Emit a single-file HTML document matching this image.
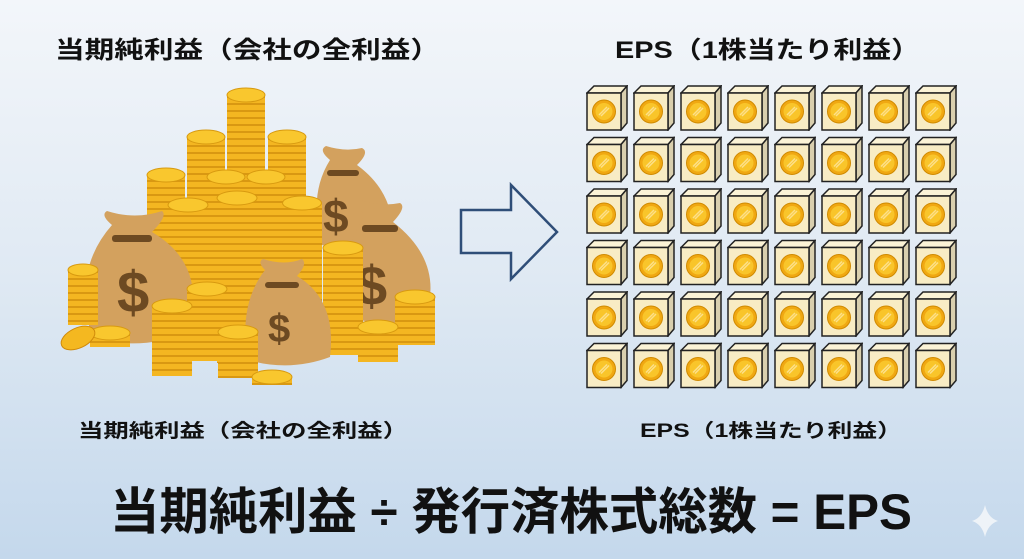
<!DOCTYPE html>
<html><head><meta charset="utf-8"><style>
html,body{margin:0;padding:0;width:1024px;height:559px;overflow:hidden}
svg{display:block}
text{font-family:"Liberation Sans","Noto Sans CJK JP",sans-serif;font-weight:bold;fill:#111}
</style></head><body>
<svg width="1024" height="559" viewBox="0 0 1024 559" xmlns="http://www.w3.org/2000/svg">
<defs>
<linearGradient id="bg" x1="0" y1="0" x2="0" y2="1">
<stop offset="0" stop-color="#f3f6fa"/><stop offset="0.5" stop-color="#dfe9f3"/><stop offset="1" stop-color="#c4d8ec"/>
</linearGradient>
<pattern id="st" patternUnits="userSpaceOnUse" width="10" height="7">
<rect width="10" height="7" fill="#f4b621"/><rect y="5" width="10" height="2" fill="#d99812"/>
</pattern>
<symbol id="cube" viewBox="0 0 42 46" width="42" height="46">
<path d="M1 8 L8 1 L41 1 L35 8 Z" fill="#fbf3d6" stroke="#222" stroke-width="1.5"/>
<path d="M35 8 L41 1 L41 38 L35 45 Z" fill="#d9cfae" stroke="#222" stroke-width="1.5"/>
<rect x="1" y="8" width="34" height="37" fill="#f8ecc4" stroke="#222" stroke-width="1.5"/>
<circle cx="18" cy="26.5" r="11.5" fill="#f0a812" stroke="#d08a00"/>
<circle cx="18" cy="26.5" r="8.5" fill="#f9c52a"/>
<path d="M13 30 L21 22 M15 31 L23 23" stroke="#fde08a" stroke-width="1.5"/>
</symbol>
<g id="cubes">
<use href="#cube" x="586" y="85"/><use href="#cube" x="633" y="85"/><use href="#cube" x="680" y="85"/><use href="#cube" x="727" y="85"/><use href="#cube" x="774" y="85"/><use href="#cube" x="821" y="85"/><use href="#cube" x="868" y="85"/><use href="#cube" x="915" y="85"/>
</g>
</defs>
<rect width="1024" height="559" fill="url(#bg)"/>

<text x="55" y="58" font-size="24" textLength="385" lengthAdjust="spacingAndGlyphs">当期純利益（会社の全利益）</text>
<text x="615" y="58" font-size="24" textLength="305" lengthAdjust="spacingAndGlyphs">EPS（1株当たり利益）</text>
<text x="78" y="437" font-size="19" textLength="330" lengthAdjust="spacingAndGlyphs">当期純利益（会社の全利益）</text>
<text x="640" y="437" font-size="19" textLength="262" lengthAdjust="spacingAndGlyphs">EPS（1株当たり利益）</text>
<text x="110" y="529" font-size="50" textLength="802" lengthAdjust="spacingAndGlyphs">当期純利益 ÷ 発行済株式総数 = EPS</text>

<path d="M461 210 L511 210 L511 185 L557 232 L511 279 L511 253 L461 253 Z" fill="none" stroke="#2f4e78" stroke-width="2.5"/>

<use href="#cubes"/>
<use href="#cubes" y="51.5"/>
<use href="#cubes" y="103"/>
<use href="#cubes" y="154.5"/>
<use href="#cubes" y="206"/>
<use href="#cubes" y="257.5"/>

<g>
<g><rect x="227" y="95" width="38" height="165" fill="url(#st)"/><ellipse cx="246" cy="95" rx="19" ry="7" fill="#f9c72e" stroke="#d89a10"/></g>
<g><rect x="187" y="137" width="38" height="115" fill="url(#st)"/><ellipse cx="206" cy="137" rx="19" ry="7" fill="#f9c72e" stroke="#d89a10"/></g>
<g><rect x="268" y="137" width="38" height="115" fill="url(#st)"/><ellipse cx="287" cy="137" rx="19" ry="7" fill="#f9c72e" stroke="#d89a10"/></g>
<path d="M330 160 Q318 150 326 146 Q345 152 362 148 Q370 152 357 165 Q398 195 392 245 Q360 258 322 245 Q308 195 330 160 Z" fill="#d3a15e"/>
<rect x="327" y="170" width="32" height="6" rx="3" fill="#6d4a22"/>
<text x="323" y="232" font-size="46" style="fill:#6d4a22">$</text>
<g><rect x="147" y="175" width="38" height="105" fill="url(#st)"/><ellipse cx="166" cy="175" rx="19" ry="7" fill="#f9c72e" stroke="#d89a10"/></g>
<g><rect x="207" y="177" width="38" height="123" fill="url(#st)"/><ellipse cx="226" cy="177" rx="19" ry="7" fill="#f9c72e" stroke="#d89a10"/></g>
<g><rect x="247" y="177" width="38" height="123" fill="url(#st)"/><ellipse cx="266" cy="177" rx="19" ry="7" fill="#f9c72e" stroke="#d89a10"/></g>
<g><rect x="168" y="205" width="40" height="135" fill="url(#st)"/><ellipse cx="188" cy="205" rx="20" ry="7" fill="#f9c72e" stroke="#d89a10"/></g>
<g><rect x="217" y="198" width="40" height="165" fill="url(#st)"/><ellipse cx="237" cy="198" rx="20" ry="7" fill="#f9c72e" stroke="#d89a10"/></g>
<g><rect x="283" y="203" width="39" height="140" fill="url(#st)"/><ellipse cx="302" cy="203" rx="19.5" ry="7" fill="#f9c72e" stroke="#d89a10"/></g>
<path d="M365 215 Q353 205 361 200 Q380 207 400 203 Q407 207 393 222 Q442 260 427 312 Q390 332 352 317 Q333 265 365 215 Z" fill="#d3a15e"/>
<rect x="362" y="225" width="36" height="7" rx="3" fill="#6d4a22"/>
<text x="356" y="305" font-size="56" style="fill:#6d4a22">$</text>
<path d="M112 225 Q100 215 107 211 Q135 220 162 211 Q168 216 152 232 Q208 265 188 332 Q140 352 92 337 Q72 270 112 225 Z" fill="#d3a15e"/>
<rect x="112" y="235" width="40" height="7" rx="3" fill="#6d4a22"/>
<text x="117" y="312" font-size="58" style="fill:#6d4a22">$</text>
<g><rect x="68" y="270" width="30" height="55" fill="url(#st)"/><ellipse cx="83" cy="270" rx="15" ry="6" fill="#f9c72e" stroke="#d89a10"/></g>
<g><rect x="323" y="248" width="40" height="107" fill="url(#st)"/><ellipse cx="343" cy="248" rx="20" ry="7" fill="#f9c72e" stroke="#d89a10"/></g>
<g><rect x="187" y="289" width="40" height="72" fill="url(#st)"/><ellipse cx="207" cy="289" rx="20" ry="7" fill="#f9c72e" stroke="#d89a10"/></g>
<g><rect x="152" y="306" width="40" height="70" fill="url(#st)"/><ellipse cx="172" cy="306" rx="20" ry="7" fill="#f9c72e" stroke="#d89a10"/></g>
<path d="M265 270 Q257 262 263 259 Q285 266 302 259 Q308 264 297 276 Q337 300 330 357 Q290 372 248 360 Q238 305 265 270 Z" fill="#d3a15e"/>
<rect x="265" y="282" width="34" height="6" rx="3" fill="#6d4a22"/>
<text x="268" y="342" font-size="40" style="fill:#6d4a22">$</text>
<g><rect x="395" y="297" width="40" height="48" fill="url(#st)"/><ellipse cx="415" cy="297" rx="20" ry="7" fill="#f9c72e" stroke="#d89a10"/></g>
<g><rect x="358" y="327" width="40" height="35" fill="url(#st)"/><ellipse cx="378" cy="327" rx="20" ry="7" fill="#f9c72e" stroke="#d89a10"/></g>
<g><rect x="218" y="332" width="40" height="46" fill="url(#st)"/><ellipse cx="238" cy="332" rx="20" ry="7" fill="#f9c72e" stroke="#d89a10"/></g>
<g><rect x="90" y="333" width="40" height="14" fill="url(#st)"/><ellipse cx="110" cy="333" rx="20" ry="7" fill="#f9c72e" stroke="#d89a10"/></g>
<ellipse cx="78" cy="338" rx="18" ry="10" transform="rotate(-25 78 338)" fill="#f4b820" stroke="#d08a0a"/>
<g><rect x="252" y="377" width="40" height="8" fill="url(#st)"/><ellipse cx="272" cy="377" rx="20" ry="7" fill="#f9c72e" stroke="#d89a10"/></g>
</g>

<path d="M985 505 Q988 518 998 521 Q988 524 985 537 Q982 524 972 521 Q982 518 985 505 Z" fill="#eef3f8"/>
</svg>
</body></html>
